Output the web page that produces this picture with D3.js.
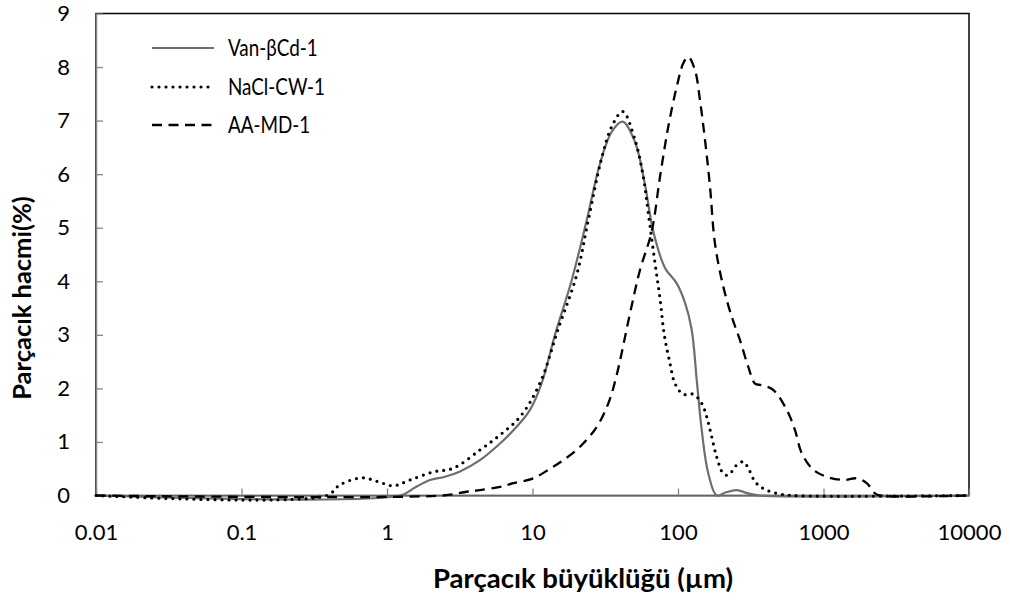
<!DOCTYPE html>
<html><head><meta charset="utf-8">
<script src="https://cdn.jsdelivr.net/npm/d3@7"></script>
<style>
body{margin:0;background:#fff;}
svg text{font-family:Lato,"Noto Sans",sans-serif;fill:#000;}
</style>
</head><body>
<svg id="chart" width="1010" height="601"></svg>
<script>
// ---------- data ----------
const seriesNames = ["Van-βCd-1", "NaCl-CW-1", "AA-MD-1"];
const xTickValues = [0.01, 0.1, 1, 10, 100, 1000, 10000];
const xTickLabels = ["0.01", "0.1", "1", "10", "100", "1000", "10000"];
const yTickValues = [0, 1, 2, 3, 4, 5, 6, 7, 8, 9];
const xTitle = "Parçacık büyüklüğü (µm)";
const yTitle = "Parçacık hacmi(%)";

const vanSize   = [0.01, 1.228, 1.557, 1.975, 2.504, 3.176, 4.357, 5.978, 7.58, 9.61, 11.57, 14.27, 18.6, 23.58, 29.11, 35.19, 41.69, 50.63, 59.34, 67.64, 81.42, 97.97, 111.7, 124.3, 134.5, 145.6, 161.5, 184.5, 213.8, 253.2, 302.8, 366.1, 10000];
const vanVolume = [0,    0,     0.15,  0.29,  0.35,  0.45,  0.66,  0.97,  1.25, 1.6,  2.1,   3.0,   4.02, 5.14,  6.2,   6.8,   6.98,  6.6,   5.8,   4.93,  4.25,  3.96,  3.6,   3.09,  2.16,  1.22,  0.41,  0,     0.06,  0.1,   0.04,  0,     0];

const naclSize   = [0.01, 0.385, 0.475, 0.67, 0.867, 1.105, 1.439, 2.081, 2.855, 4.357, 5.978, 8.21, 11.26, 14.97, 20.13, 24.18, 29.89, 35.19, 41.69, 50.63, 57.75, 62.5, 69.49, 75.21, 80.5, 88.1, 95.37, 108.7, 127.4, 145.6, 157.5, 170.4, 184.5, 204.8, 221.7, 253.2, 281.1, 304.2, 338.2, 385.8, 476.9, 617.3, 10000];
const naclVolume = [0,    0,     0.2,   0.33, 0.26,  0.18,  0.29,  0.44,  0.51,  0.85,  1.13,  1.47, 2.1,   3.1,   4.12,  5.14,  6.3,   6.9,   7.17,  6.64,  5.95,  5.27, 4.34,  3.68,  3.0,  2.47, 2.09,  1.89,  1.89,  1.72,  1.47,  1.1,   0.72,  0.41,  0.38,  0.57,  0.63,  0.51,  0.26,  0.13,  0.04,  0,     0];

const aaSize   = [0.01, 2.426, 3.53, 4.357, 5.978, 7.38, 10.13, 13.19, 16.28, 21.21, 27.62, 33.19, 37.91, 46.78, 54.8, 65.95, 75.21, 85.77, 97.97, 108.7, 117.7, 130.9, 141.6, 153.3, 165.9, 179.6, 204.8, 233.9, 266.8, 304.2, 338.2, 376.2, 451.9, 558.6, 637.1, 708.5, 850.9, 1052, 1368, 1691, 1981, 2259, 2445, 10000];
const aaVolume = [0,    0,     0.07, 0.1,   0.16,  0.23, 0.32,  0.5,   0.66,  0.91,  1.28,  1.72,  2.25,  3.4,   4.21, 4.93,  5.95,  6.89,  7.63,  8.07,  8.19,  7.94,  7.38,  6.64,  5.77,  4.7,   3.9,   3.34,  2.9,   2.4,   2.09,  2.06,  1.97,  1.6,   1.22,  0.79,  0.48,  0.35, 0.29, 0.32, 0.23, 0.04, 0,    0];

// ---------- layout ----------
const L = 96, T = 13.5, R = 969, B = 495.5;
const svg = d3.select("#chart");
const x = d3.scaleLog().domain([0.01, 10000]).range([L, R]);
const y = d3.scaleLinear().domain([0, 9]).range([B, T]);
const axisGray = "#868686";

// plot border
svg.append("rect").attr("x", L).attr("y", T).attr("width", R - L).attr("height", B - T)
  .attr("fill", "none").attr("stroke", "#000").attr("stroke-width", 1.5);

// axes
const gx = svg.append("g").attr("transform", `translate(0,${B})`)
  .call(d3.axisBottom(x).tickValues(xTickValues).tickSizeInner(-7).tickSizeOuter(0).tickPadding(29)
    .tickFormat((d, i) => xTickLabels[i]));
const gy = svg.append("g").attr("transform", `translate(${L},0)`)
  .call(d3.axisLeft(y).tickValues(yTickValues).tickSizeInner(-7).tickSizeOuter(0).tickPadding(26)
    .tickFormat(d3.format("d")));
[gx, gy].forEach(g => {
  g.select(".domain").attr("stroke", axisGray).attr("stroke-width", 1.5);
  g.selectAll(".tick line").attr("stroke", axisGray).attr("stroke-width", 1.3);
  g.selectAll(".tick text").attr("font-size", 22).attr("font-family", "Lato").attr("fill", "#000");
});

// series
const line = d3.line().x(d => x(d[0])).y(d => y(d[1])).curve(d3.curveCatmullRom.alpha(0.5));
const styles = [
  {stroke: "#6e6e6e", width: 2.2, dash: null, cap: "butt"},
  {stroke: "#000", width: 3.2, dash: "0,7", cap: "round"},
  {stroke: "#000", width: 2.3, dash: "10,6.5", cap: "butt"}
];
const series = [
  d3.zip(vanSize, vanVolume),
  d3.zip(naclSize, naclVolume),
  d3.zip(aaSize, aaVolume)
];
series.forEach((s, i) => {
  svg.append("path").attr("d", line(s)).attr("fill", "none")
    .attr("stroke", styles[i].stroke).attr("stroke-width", styles[i].width)
    .attr("stroke-dasharray", styles[i].dash).attr("stroke-linecap", styles[i].cap);
});

// legend
const legY = [48, 87, 125];
seriesNames.forEach((n, i) => {
  svg.append("line").attr("x1", 152).attr("x2", 214).attr("y1", legY[i]).attr("y2", legY[i])
    .attr("stroke", styles[i].stroke).attr("stroke-width", styles[i].width)
    .attr("stroke-dasharray", styles[i].dash).attr("stroke-linecap", styles[i].cap);
  svg.append("text").attr("transform", `translate(228,${legY[i]}) scale(0.82,1)`).attr("dy", "0.36em")
    .attr("font-size", 23).text(n);
});

// titles
svg.append("text").attr("x", 583).attr("y", 578).attr("dy", "0.35em").attr("text-anchor", "middle")
  .attr("font-size", 27.5).attr("font-weight", "bold").text(xTitle);
svg.append("text").attr("transform", "translate(22,298) rotate(-90)").attr("dy", "0.35em")
  .attr("text-anchor", "middle").attr("font-size", 25.5).attr("font-weight", "bold").text(yTitle);
</script>
</body></html>
